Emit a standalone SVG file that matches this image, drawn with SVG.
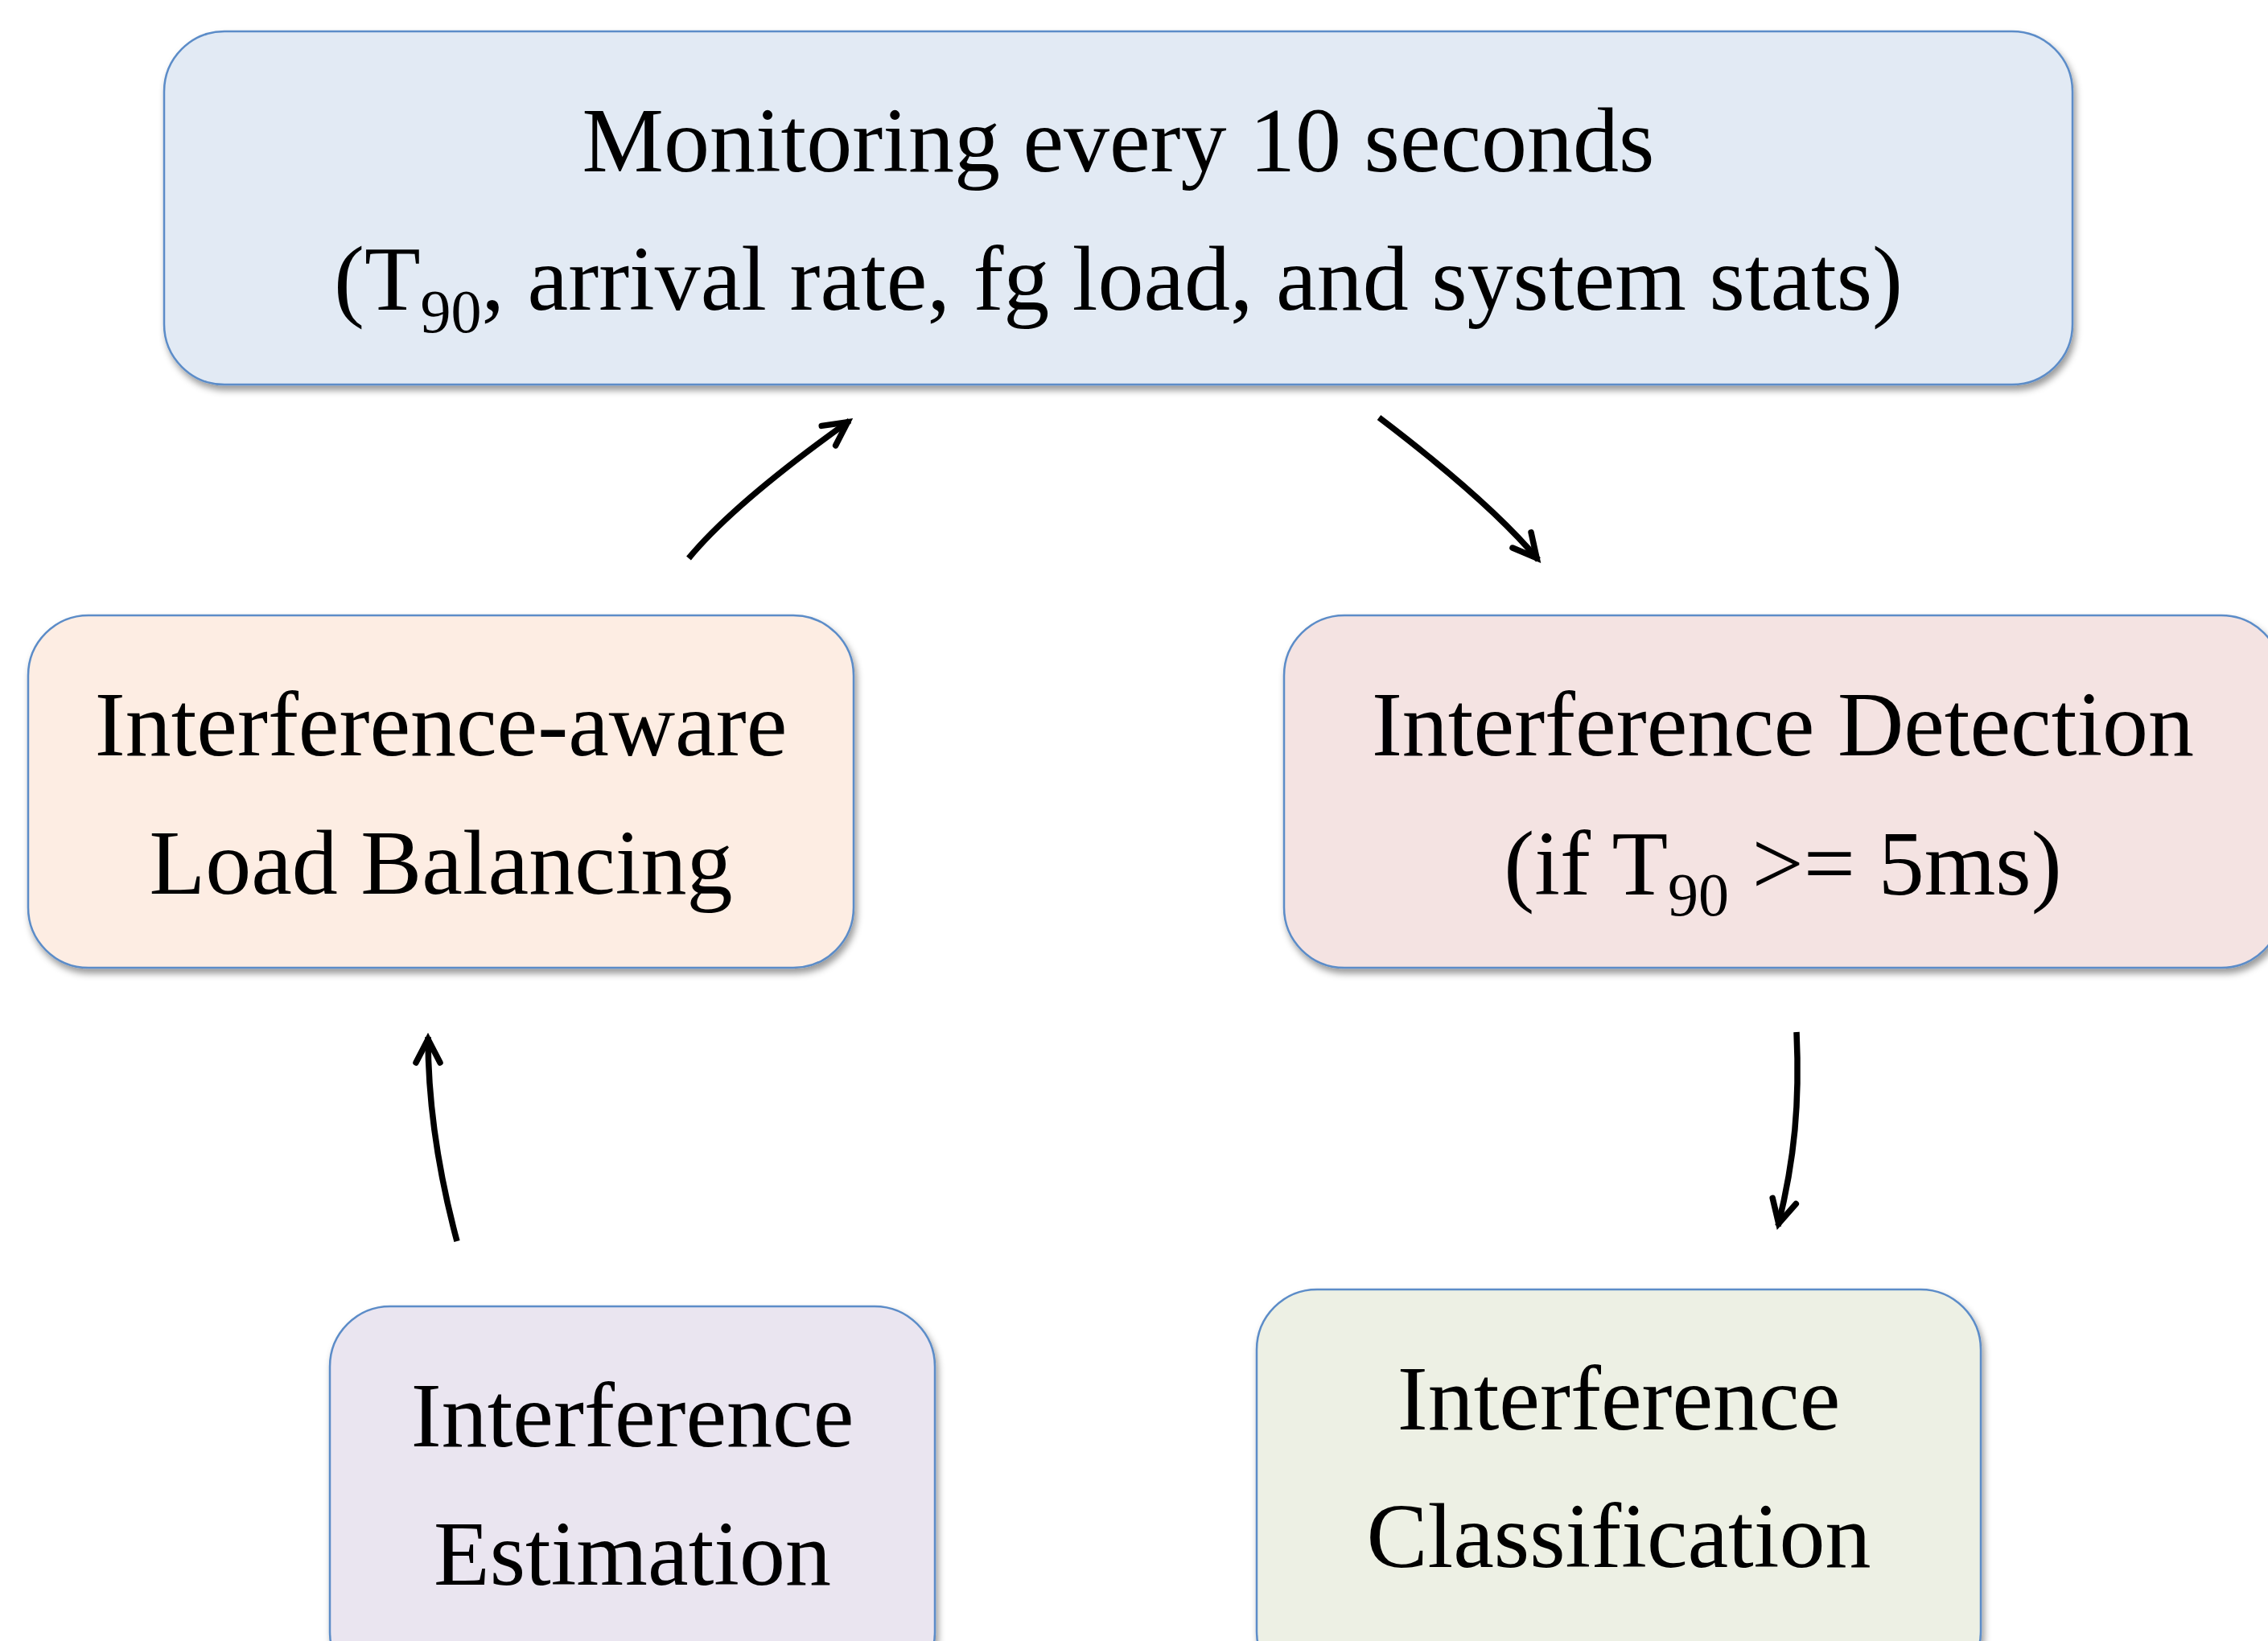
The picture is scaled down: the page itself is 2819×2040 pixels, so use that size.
<svg xmlns="http://www.w3.org/2000/svg" width="2819" height="2040" viewBox="0 0 2819 2040">
  <defs>
    <style>
      .box { stroke: #5B8CC8; stroke-width: 2.5; filter: url(#shadow); }
      .label { font-family: "Liberation Serif", "Times New Roman", serif; font-size: 114px; fill: #000; text-anchor: middle; }
      .sub { font-size: 76px; }
      .flow { fill: none; stroke: #000; stroke-width: 7.5; stroke-linecap: butt; marker-end: url(#head); }
    </style>
    <filter id="shadow" x="-5%" y="-5%" width="110%" height="115%">
      <feDropShadow dx="3" dy="6" stdDeviation="4" flood-color="#000" flood-opacity="0.4"/>
    </filter>
    <marker id="head" markerUnits="userSpaceOnUse" orient="auto" overflow="visible" refX="0" refY="0" markerWidth="1" markerHeight="1">
      <path d="M -32 -15 L -3 0 L -32 15" fill="none" stroke="#000" stroke-width="7.5" stroke-linecap="round" stroke-linejoin="miter"/>
    </marker>
  </defs>

  <rect width="2819" height="2040" fill="#FFFFFF"/>

  <!-- monitoring loop -->
  <g id="monitoring">
    <rect class="box" x="204" y="39" width="2372" height="439" rx="75" ry="75" fill="#E2EAF4"/>
    <text class="label" x="1390" y="213">Monitoring every 10 seconds</text>
    <text class="label" x="1390" y="385">(T<tspan class="sub" dy="28">90</tspan><tspan dy="-28">, arrival rate, fg load, and system stats)</tspan></text>
  </g>

  <g id="load-balancing">
    <rect class="box" x="35" y="765" width="1026" height="438" rx="75" ry="75" fill="#FDEDE3"/>
    <text class="label" x="548" y="939">Interference-aware</text>
    <text class="label" x="548" y="1111">Load Balancing</text>
  </g>

  <g id="detection">
    <rect class="box" x="1596" y="765" width="1240" height="438" rx="75" ry="75" fill="#F4E3E2"/>
    <text class="label" x="2216" y="939">Interference Detection</text>
    <text class="label" x="2216" y="1112">(if T<tspan class="sub" dy="26">90</tspan><tspan dy="-26"> &gt;= 5ms)</tspan></text>
  </g>

  <g id="estimation">
    <rect class="box" x="410" y="1624" width="752" height="480" rx="75" ry="75" fill="#EAE5F0"/>
    <text class="label" x="786" y="1798">Interference</text>
    <text class="label" x="786" y="1970">Estimation</text>
  </g>

  <g id="classification">
    <rect class="box" x="1562" y="1603" width="900" height="500" rx="75" ry="75" fill="#EDF0E4"/>
    <text class="label" x="2012" y="1777">Interference</text>
    <text class="label" x="2012" y="1948">Classification</text>
  </g>

  <!-- connectors -->
  <g id="connectors">
    <path class="flow" d="M 856 694 Q 913 625 1056 523"/>
    <path class="flow" d="M 1714 519 Q 1852 624 1912 696"/>
    <path class="flow" d="M 2233 1283 C 2237 1370 2231 1440 2210 1524"/>
    <path class="flow" d="M 568 1543 Q 532 1409 532 1289"/>
  </g>
</svg>
